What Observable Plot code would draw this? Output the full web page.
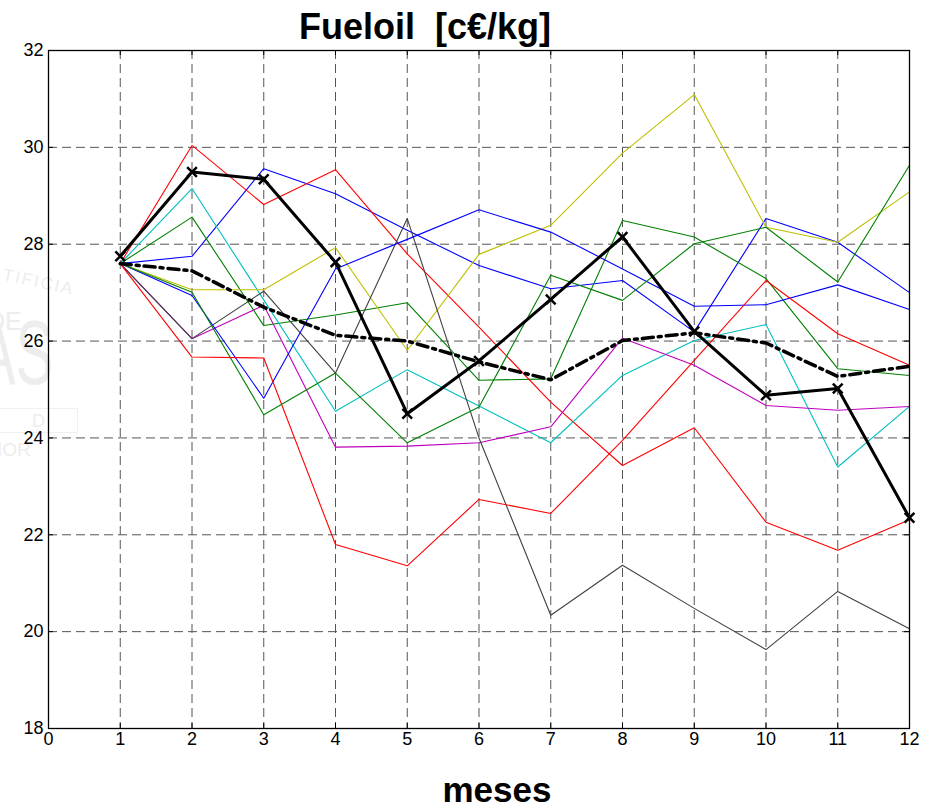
<!DOCTYPE html>
<html>
<head>
<meta charset="utf-8">
<script src="https://cdn.jsdelivr.net/npm/d3@7"></script>
<script src="https://cdn.jsdelivr.net/npm/@observablehq/plot@0.6"></script>
<style>
  html, body { margin: 0; padding: 0; background: #fff; }
  #wrap { position: relative; width: 940px; height: 809px; overflow: hidden; font-family: "Liberation Sans", Arial, sans-serif; }
  .wm { position: absolute; color: #ededed; font-family: "Liberation Sans", Arial, sans-serif; white-space: pre; line-height: 1; }
  #title { position: absolute; left: 0; width: 850px; top: 9px; text-align: center; font-weight: bold; font-size: 36px; line-height: 36px; white-space: pre; color: #000; }
  #xlabel { position: absolute; left: 0; width: 994px; top: 772px; text-align: center; font-weight: bold; font-size: 35px; line-height: 35px; color: #000; }
  #plot { position: absolute; left: 0; top: 0; }
</style>
</head>
<body>
<div id="wrap">
  <div class="wm" style="left:5px;top:266px;font-size:17px;letter-spacing:2px;transform:rotate(12deg);transform-origin:left top;">TIFICIA</div>
  <div class="wm" style="left:-13px;top:309px;font-size:25px;">DE</div>
  <div class="wm" style="left:-22px;top:307px;font-size:91px;transform:scaleX(0.62);transform-origin:left top;">AS</div>
  <div class="wm" style="left:-2px;top:408px;width:78px;height:23px;border:1px solid #f0f0f0;"></div>
  <div class="wm" style="left:32px;top:412px;font-size:18px;">D</div>
  <div class="wm" style="left:-3px;top:440px;font-size:19px;">IOR</div>
  <div id="title">Fueloil  [c€/kg]</div>
  <div id="plot"></div>
  <div id="xlabel">meses</div>
</div>
<script>
// ---- data ----
const months = [1, 2, 3, 4, 5, 6, 7, 8, 9, 10, 11, 12];
const xTicks = [0, 1, 2, 3, 4, 5, 6, 7, 8, 9, 10, 11, 12];
const yTicks = [18, 20, 22, 24, 26, 28, 30, 32];

const simBlue1   = [27.6, 27.75, 29.56, 29.04, 28.29, 27.56, 27.08, 27.25, 26.19, 28.53, 28.04, 27.0];
const simGreen1  = [27.6, 28.56, 26.32, 26.54, 26.79, 25.19, 25.22, 28.49, 28.15, 27.29, 25.43, 25.29];
const simRed1    = [27.6, 30.04, 28.82, 29.54, 27.8, 26.29, 24.74, 23.43, 24.21, 22.26, 21.68, 22.31];
const simCyan    = [27.6, 29.15, 26.85, 24.55, 25.41, 24.66, 23.9, 25.29, 26.01, 26.34, 23.4, 24.65];
const simMagenta = [27.6, 26.05, 26.74, 23.81, 23.83, 23.9, 24.23, 26.06, 25.5, 24.67, 24.57, 24.65];
const simYellow  = [27.6, 27.06, 27.06, 27.93, 25.81, 27.79, 28.39, 29.88, 31.09, 28.35, 28.04, 29.08];
const simGray    = [27.6, 26.05, 27.03, 25.34, 28.53, 24.0, 20.34, 21.37, 20.48, 19.63, 20.83, 20.06];
const simBlue2   = [27.6, 26.94, 24.82, 27.49, 28.1, 28.71, 28.25, 27.49, 26.72, 26.75, 27.16, 26.65];
const simGreen2  = [27.6, 27.01, 24.48, 25.34, 23.9, 24.64, 27.36, 26.84, 28.01, 28.35, 27.22, 29.63];
const simRed2    = [27.6, 25.67, 25.65, 21.8, 21.36, 22.73, 22.44, 23.95, 25.6, 27.25, 26.15, 25.5];
const meanPrice   = [27.6, 27.45, 26.7, 26.12, 26.0, 25.57, 25.2, 26.01, 26.17, 25.96, 25.27, 25.48];
const actualPrice = [27.75, 29.49, 29.34, 27.63, 24.5, 25.59, 26.86, 28.15, 26.2, 24.88, 25.02, 22.35];

const simNames  = ["sim1", "sim2", "sim3", "sim4", "sim5", "sim6", "sim7", "sim8", "sim9", "sim10"];
const simColors = ["#0000ff", "#008000", "#ff0000", "#00bfbf", "#bf00bf", "#bfbf00", "#404040", "#0000ff", "#008000", "#ff0000"];
const simSeries = [simBlue1, simGreen1, simRed1, simCyan, simMagenta, simYellow, simGray, simBlue2, simGreen2, simRed2];

// ---- build tables ----
const simRows = simSeries.flatMap((vals, i) =>
  vals.map((v, j) => ({month: months[j], value: v, series: simNames[i], color: simColors[i]})));
const meanRows = meanPrice.map((v, j) => ({month: months[j], value: v}));
const actualRows = actualPrice.map((v, j) => ({month: months[j], value: v}));

const W = 940, H = 809, mL = 48, mR = 31, mT = 50, mB = 81;
const pw = W - mL - mR, ph = H - mT - mB;
const tick = 5;

const chart = Plot.plot({
  width: W,
  height: H,
  marginLeft: mL,
  marginRight: mR,
  marginTop: mT,
  marginBottom: mB,
  style: {fontFamily: "'Liberation Sans', Arial, sans-serif", fontSize: "18px", background: "transparent", color: "#000"},
  x: {domain: [0, 12], label: null},
  y: {domain: [18, 32], label: null},
  color: {type: "identity"},
  marks: [
    Plot.gridX(xTicks.filter(d => d > 0 && d < 12), {stroke: "#555", strokeOpacity: 1, strokeWidth: 1, strokeDasharray: "9,5"}),
    Plot.gridY(yTicks.filter(d => d > 18 && d < 32), {stroke: "#555", strokeOpacity: 1, strokeWidth: 1, strokeDasharray: "9,5"}),
    // inward ticks on all four sides
    Plot.tickX(xTicks, {x: d => d, stroke: "#000", insetTop: ph - tick}),
    Plot.tickX(xTicks, {x: d => d, stroke: "#000", insetBottom: ph - tick}),
    Plot.tickY(yTicks, {y: d => d, stroke: "#000", insetRight: pw - tick}),
    Plot.tickY(yTicks, {y: d => d, stroke: "#000", insetLeft: pw - tick}),
    Plot.axisX(xTicks, {tickSize: 0, tickPadding: 4, fontSize: 18, label: null}),
    Plot.axisY(yTicks, {tickSize: 0, tickPadding: 5, fontSize: 18, label: null}),
    Plot.line(simRows, {x: "month", y: "value", z: "series", stroke: "color", strokeWidth: 1.1}),
    Plot.line(meanRows, {x: "month", y: "value", stroke: "#000", strokeWidth: 3.5, strokeDasharray: "11,5,3,5"}),
    Plot.line(actualRows, {x: "month", y: "value", stroke: "#000", strokeWidth: 3}),
    Plot.dot(actualRows, {x: "month", y: "value", symbol: "times", r: 4.5, stroke: "#000", strokeWidth: 2.5}),
    Plot.frame({stroke: "#000", strokeWidth: 1.3})
  ]
});
document.getElementById("plot").appendChild(chart);
</script>
</body>
</html>
